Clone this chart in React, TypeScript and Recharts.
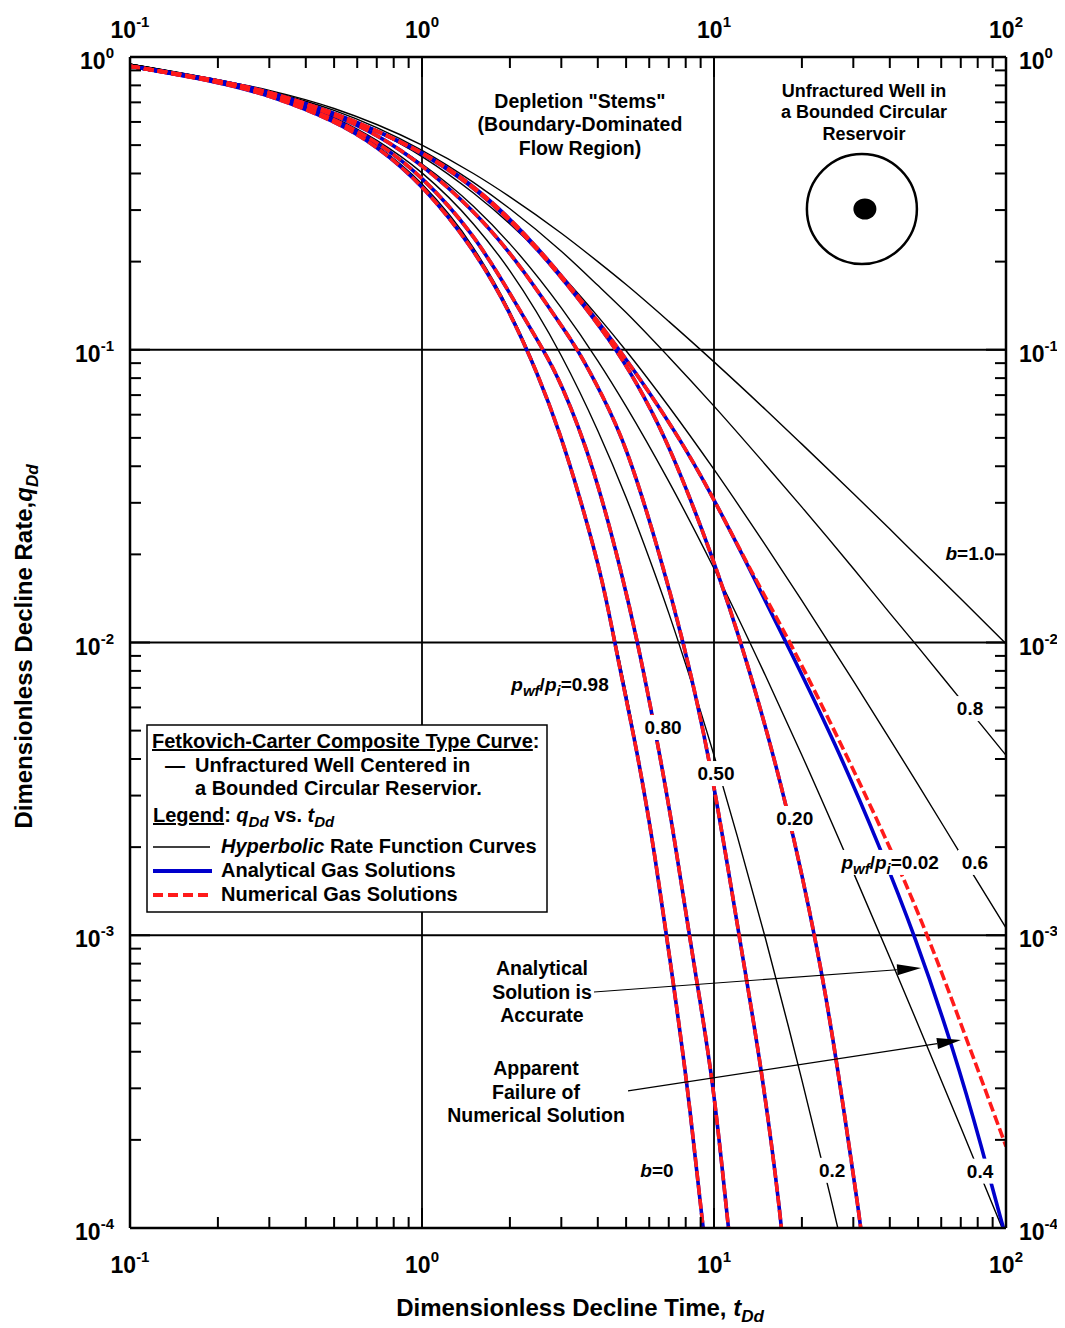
import React from 'react';
import {
  LineChart,
  Line,
  XAxis,
  YAxis,
  CartesianGrid,
  ReferenceDot,
  ReferenceLine,
  Legend,
  Label,
} from 'recharts';

const FONT = '"Liberation Sans", Arial, Helvetica, sans-serif';
const BLUE = '#0000cc';
const RED = '#ff1a1a';

// ---- axes -------------------------------------------------------------
const xDomain = [0.1, 100];
const yDomain = [0.0001, 1];
const xTicks = [
  0.1, 0.2, 0.3, 0.4, 0.5, 0.6, 0.7, 0.8, 0.9, 1, 2, 3, 4, 5, 6, 7, 8, 9, 10, 20, 30, 40, 50,
  60, 70, 80, 90, 100,
];
const yTicks = [
  0.0001, 0.0002, 0.0003, 0.0004, 0.0005, 0.0006, 0.0007, 0.0008, 0.0009, 0.001, 0.002, 0.003,
  0.004, 0.005, 0.006, 0.007, 0.008, 0.009, 0.01, 0.02, 0.03, 0.04, 0.05, 0.06, 0.07, 0.08, 0.09,
  0.1, 0.2, 0.3, 0.4, 0.5, 0.6, 0.7, 0.8, 0.9, 1,
];
const xGrid = [1, 10];
const yGrid = [0.1, 0.01, 0.001];

// ---- hyperbolic rate function stems (b = 0 ... 1) -------------------------
const tB0 = [0.1, 0.2, 0.3, 0.5, 0.7, 1, 1.5, 2, 2.5, 3, 3.5, 4, 4.5, 5, 5.5, 6, 6.5, 7, 7.5, 8, 8.5, 9, 9.5];
const qB0 = [
  0.945, 0.822, 0.741, 0.607, 0.497, 0.368, 0.223, 0.135, 0.0821, 0.0498, 0.0302, 0.0183, 0.0111,
  0.00674, 0.00409, 0.00248, 0.0015, 0.000912, 0.000553, 0.000335, 0.000203, 0.000123, 0.0000749,
];
const tB02 = [0.1, 0.2, 0.3, 0.5, 0.7, 1, 1.5, 2, 3, 4, 5, 6, 7, 8, 10, 12, 15, 18, 20, 25, 30];
const qB02 = [
  0.945, 0.825, 0.747, 0.621, 0.519, 0.402, 0.269, 0.186, 0.0954, 0.0529, 0.0313, 0.0194, 0.0126,
  0.00842, 0.00412, 0.00219, 0.000977, 0.000486, 0.00032, 0.000129, 0.0000595,
];
const tStem = [0.1, 0.2, 0.3, 0.5, 0.7, 1, 1.5, 2, 3, 4, 5, 7, 10, 15, 20, 30, 40, 50, 70, 100];
const qB04 = [
  0.945, 0.828, 0.753, 0.634, 0.539, 0.431, 0.309, 0.23, 0.139, 0.0917, 0.0641, 0.0355, 0.0179,
  0.00771, 0.00412, 0.00164, 0.000839, 0.000495, 0.000221, 0.0000929,
];
const qB06 = [
  0.945, 0.831, 0.759, 0.646, 0.557, 0.457, 0.343, 0.269, 0.18, 0.13, 0.0992, 0.064, 0.039, 0.0215,
  0.0139, 0.00739, 0.00468, 0.00327, 0.00189, 0.00106,
];
const qB08 = [
  0.945, 0.834, 0.764, 0.657, 0.574, 0.48, 0.373, 0.303, 0.217, 0.166, 0.134, 0.0945, 0.0642, 0.0405,
  0.029, 0.0179, 0.0126, 0.00964, 0.00638, 0.00412,
];
const qB10 = [
  0.945, 0.836, 0.769, 0.667, 0.588, 0.5, 0.4, 0.333, 0.25, 0.2, 0.167, 0.125, 0.0909, 0.0625, 0.0476,
  0.0323, 0.0244, 0.0196, 0.0141, 0.0099,
];

// ---- gas solutions, by pwf/pi ---------------------------------------------
const tG098 = [0.1, 0.2, 0.3, 0.5, 0.7, 1, 1.5, 2, 2.5, 2.97, 3.47, 4.17, 4.69, 5.5, 6.3, 7.07, 8.08, 9.15, 9.6];
const qG098 = [
  0.93, 0.823, 0.741, 0.607, 0.497, 0.368, 0.223, 0.135, 0.0821, 0.052, 0.0314, 0.0163, 0.0087,
  0.0041, 0.00184, 0.000823, 0.00032, 0.000102, 0.000068,
];
const tG080 = [0.1, 0.2, 0.3, 0.5, 0.7, 1, 1.5, 2, 2.6, 2.97, 3.85, 4.88, 5.45, 6.13, 7.18, 8.47, 9.92, 11.17, 11.5];
const qG080 = [
  0.93, 0.825, 0.745, 0.618, 0.515, 0.393, 0.25, 0.156, 0.1, 0.0788, 0.041, 0.0166, 0.0102, 0.00574,
  0.00246, 0.000823, 0.000328, 0.000102, 0.00008,
];
const tG050 = [
  0.1, 0.2, 0.3, 0.5, 0.7, 1, 1.5, 2, 2.5, 3, 3.42, 4.13, 5.035, 6.534, 7.83, 9.69, 12.57, 14.6, 17.1,
  17.5,
];
const qG050 = [
  0.93, 0.83, 0.756, 0.637, 0.545, 0.43, 0.3, 0.215, 0.158, 0.121, 0.1, 0.0706, 0.0466, 0.0199, 0.0102,
  0.00406, 0.000823, 0.000346, 0.000102, 0.00007,
];
const tG020 = [
  0.1, 0.2, 0.3, 0.5, 0.7, 1, 1.349, 1.849, 2.54, 3.47, 4.65, 5.71, 7.07, 9.92, 12.97, 17.78, 23.07,
  26.17, 31.87, 32.6,
];
const qG020 = [
  0.93, 0.832, 0.762, 0.645, 0.56, 0.471, 0.39, 0.3, 0.216, 0.148, 0.1, 0.0706, 0.0466, 0.0196, 0.00871,
  0.00283, 0.000823, 0.000384, 0.000102, 0.00008,
];
const tG002 = [
  0.1, 0.2, 0.3, 0.5, 0.7, 1, 1.349, 1.849, 2.54, 3.47, 4.77, 7.47, 9.92, 13.3, 18.2, 26, 37, 48.8,
  65.9, 83.4, 96.9, 100,
];
const qG002 = [
  0.93, 0.832, 0.762, 0.645, 0.561, 0.474, 0.394, 0.304, 0.219, 0.15, 0.1, 0.0519, 0.0314, 0.0177,
  0.00942, 0.00454, 0.002, 0.000994, 0.000412, 0.000183, 0.000103, 0.000094,
];
// numerical run for pwf/pi = 0.02 departs from the analytical one at late time
const tG002Num = [
  0.1, 0.2, 0.3, 0.5, 0.7, 1, 1.349, 1.849, 2.54, 3.47, 4.77, 7.47, 9.92, 13.3, 18.5, 28.1, 40.1, 53.6,
  73.5, 100,
];
const qG002Num = [
  0.93, 0.832, 0.762, 0.645, 0.561, 0.474, 0.394, 0.304, 0.219, 0.15, 0.1, 0.0519, 0.0314, 0.0177,
  0.0098, 0.00423, 0.002, 0.00102, 0.000439, 0.00019,
];

const toPts = (t: number[], q: number[]) => t.map((v, i) => ({ t: v, q: q[i] }));

const stems = [
  { id: 'b0', t: tB0, q: qB0 },
  { id: 'b02', t: tB02, q: qB02 },
  { id: 'b04', t: tStem, q: qB04 },
  { id: 'b06', t: tStem, q: qB06 },
  { id: 'b08', t: tStem, q: qB08 },
  { id: 'b10', t: tStem, q: qB10 },
];

const analytical = [
  { id: 'a098', t: tG098, q: qG098 },
  { id: 'a080', t: tG080, q: qG080 },
  { id: 'a050', t: tG050, q: qG050 },
  { id: 'a020', t: tG020, q: qG020 },
  { id: 'a002', t: tG002, q: qG002 },
];
const numerical = [
  { id: 'n098', t: tG098, q: qG098 },
  { id: 'n080', t: tG080, q: qG080 },
  { id: 'n050', t: tG050, q: qG050 },
  { id: 'n020', t: tG020, q: qG020 },
  { id: 'n002', t: tG002Num, q: qG002Num },
];

// ---- annotations (anchored in t_Dd / q_Dd units) ---------------------------
const curveTags = [
  { t: 75.3, q: 0.0202, kind: 'b', text: '1.0', bg: 0 },
  { t: 75.3, q: 0.00597, kind: 'n', text: '0.8', bg: 34 },
  { t: 78.3, q: 0.00178, kind: 'n', text: '0.6', bg: 34 },
  { t: 40.1, q: 0.00178, kind: 'p', text: '0.02', bg: 110 },
  { t: 18.9, q: 0.002515, kind: 'n', text: '0.20', bg: 44 },
  { t: 10.16, q: 0.003582, kind: 'n', text: '0.50', bg: 44 },
  { t: 6.69, q: 0.005144, kind: 'n', text: '0.80', bg: 44 },
  { t: 2.97, q: 0.00721, kind: 'p', text: '0.98', bg: 110 },
  { t: 6.38, q: 0.000158, kind: 'b', text: '0', bg: 0 },
  { t: 25.4, q: 0.000158, kind: 'n', text: '0.2', bg: 34 },
  { t: 81.5, q: 0.000157, kind: 'n', text: '0.4', bg: 34 },
];

const textBlocks = [
  { t: 3.475, q: 0.6696, size: 19.5, gap: 23.5, lines: ['Depletion "Stems"', '(Boundary-Dominated', 'Flow Region)'] },
  { t: 32.64, q: 0.7304, size: 18, gap: 21.5, lines: ['Unfractured Well in', 'a Bounded Circular', 'Reservoir'] },
  { t: 2.576, q: 0.000731, size: 19.5, gap: 23.5, lines: ['Analytical', 'Solution is', 'Accurate'] },
  { t: 2.457, q: 0.000333, size: 19.5, gap: 23.5, lines: ['Apparent', 'Failure of', 'Numerical Solution'] },
];

const arrows = [
  { from: { x: 3.882, y: 0.00064 }, to: { x: 51.2, y: 0.000773 } },
  { from: { x: 5.076, y: 0.000294 }, to: { x: 70.1, y: 0.000439 } },
];

const wellSketch = { t: 32.1, q: 0.3026 };

// ---- renderers --------------------------------------------------------------
const isDecade = (v: number) => Math.abs(Math.log10(v) - Math.round(Math.log10(v))) < 1e-6;

const Pow = ({ x, y, v, anchor }: { x: number; y: number; v: number; anchor: string }) => (
  <text x={x} y={y} textAnchor={anchor as any} fontFamily={FONT} fontWeight="bold" fill="#000">
    <tspan fontSize={23}>10</tspan>
    <tspan fontSize={15} dy={-11}>
      {String(Math.round(Math.log10(v)))}
    </tspan>
  </text>
);

const MINOR = 11;
const MAJOR = 20;

const tickBottom = (p: any) => {
  const { x, y, payload } = p;
  const major = isDecade(payload.value);
  return (
    <g>
      <line x1={x} x2={x} y1={y} y2={y - (major ? MAJOR : MINOR)} stroke="#000" strokeWidth={2} />
      {major && <Pow x={x} y={y + 45} v={payload.value} anchor="middle" />}
    </g>
  );
};
const tickTop = (p: any) => {
  const { x, y, payload } = p;
  const major = isDecade(payload.value);
  return (
    <g>
      <line x1={x} x2={x} y1={y} y2={y + (major ? MAJOR : MINOR)} stroke="#000" strokeWidth={2} />
      {major && <Pow x={x} y={y - 19} v={payload.value} anchor="middle" />}
    </g>
  );
};
const tickLeft = (p: any) => {
  const { x, y, payload } = p;
  const major = isDecade(payload.value);
  return (
    <g>
      <line x1={x} x2={x + (major ? MAJOR : MINOR)} y1={y} y2={y} stroke="#000" strokeWidth={2} />
      {major && <Pow x={x - 16} y={y + 12} v={payload.value} anchor="end" />}
    </g>
  );
};
const tickRight = (p: any) => {
  const { x, y, payload } = p;
  const major = isDecade(payload.value);
  return (
    <g>
      <line x1={x} x2={x - (major ? MAJOR : MINOR)} y1={y} y2={y} stroke="#000" strokeWidth={2} />
      {major && <Pow x={x + 13} y={y + 12} v={payload.value} anchor="start" />}
    </g>
  );
};

const XTitle = (p: any) => {
  const vb = p.viewBox || {};
  const cx = vb.x + vb.width / 2 + 12;
  const y = vb.y + 88;
  return (
    <text x={cx} y={y} textAnchor="middle" fontFamily={FONT} fontWeight="bold" fontSize={24} fill="#000">
      Dimensionless Decline Time,{' '}
      <tspan fontStyle="italic">t</tspan>
      <tspan fontStyle="italic" fontSize={17} dy={6}>
        Dd
      </tspan>
    </text>
  );
};

const YTitle = (p: any) => {
  const vb = p.viewBox || {};
  const x = vb.x - 38;
  const cy = vb.y + vb.height / 2 + 4;
  return (
    <text
      x={x}
      y={cy}
      transform={`rotate(-90, ${x}, ${cy})`}
      textAnchor="middle"
      fontFamily={FONT}
      fontWeight="bold"
      fontSize={24}
      fill="#000"
    >
      Dimensionless Decline Rate,
      <tspan fontStyle="italic">q</tspan>
      <tspan fontStyle="italic" fontSize={17} dy={6}>
        Dd
      </tspan>
    </text>
  );
};

const tagBody = (kind: string, text: string) => {
  if (kind === 'b')
    return [
      <tspan key="b" fontStyle="italic">
        b
      </tspan>,
      <tspan key="v">={text}</tspan>,
    ];
  if (kind === 'p')
    return [
      <tspan key="p1" fontStyle="italic">
        p
      </tspan>,
      <tspan key="s1" fontStyle="italic" fontSize={15} dy={5}>
        wf
      </tspan>,
      <tspan key="sl" dy={-5}>
        /
      </tspan>,
      <tspan key="p2" fontStyle="italic">
        p
      </tspan>,
      <tspan key="s2" fontStyle="italic" fontSize={15} dy={5}>
        i
      </tspan>,
      <tspan key="v" dy={-5}>
        ={text}
      </tspan>,
    ];
  return [<tspan key="v">{text}</tspan>];
};

const makeTag = (kind: string, text: string, bg: number) => (p: any) => {
  const { cx, cy } = p;
  if (cx == null || cy == null) return <g />;
  return (
    <g>
      {bg > 0 && <rect x={cx - bg / 2} y={cy - 12} width={bg} height={25} fill="#fff" />}
      <text x={cx} y={cy + 7} textAnchor="middle" fontFamily={FONT} fontWeight="bold" fontSize={19} fill="#000">
        {tagBody(kind, text)}
      </text>
    </g>
  );
};

const makeBlock = (lines: string[], size: number, gap: number) => (p: any) => {
  const { cx, cy } = p;
  if (cx == null || cy == null) return <g />;
  return (
    <text x={cx} y={cy} textAnchor="middle" fontFamily={FONT} fontWeight="bold" fontSize={size} fill="#000">
      {lines.map((l, i) => (
        <tspan key={i} x={cx} dy={i === 0 ? 0 : gap}>
          {l}
        </tspan>
      ))}
    </text>
  );
};

const WellShape = (p: any) => {
  const { cx, cy } = p;
  if (cx == null || cy == null) return <g />;
  return (
    <g>
      <circle cx={cx} cy={cy} r={55} fill="none" stroke="#000" strokeWidth={2.5} />
      <ellipse cx={cx + 3} cy={cy} rx={11.5} ry={10.5} fill="#000" />
    </g>
  );
};

const ArrowShape = (p: any) => {
  const { x1, y1, x2, y2 } = p;
  if ([x1, y1, x2, y2].some((v) => v == null || Number.isNaN(v))) return <g />;
  const ang = Math.atan2(y2 - y1, x2 - x1);
  const L = 24;
  const W = 5.5;
  const bx = x2 - L * Math.cos(ang);
  const by = y2 - L * Math.sin(ang);
  const px = -Math.sin(ang) * W;
  const py = Math.cos(ang) * W;
  return (
    <g>
      <line x1={x1} y1={y1} x2={bx} y2={by} stroke="#000" strokeWidth={1.2} />
      <polygon points={`${x2},${y2} ${bx + px},${by + py} ${bx - px},${by - py}`} fill="#000" />
    </g>
  );
};

const LegendBox = () => (
  <svg width={402} height={189} style={{ display: 'block' }} fontFamily={FONT} fontWeight="bold" fontSize={20}>
    <rect x={1} y={1} width={400} height={187} fill="#fff" stroke="#000" strokeWidth={1.5} />
    <text x={6} y={24}>
      <tspan textDecoration="underline">Fetkovich-Carter Composite Type Curve</tspan>:
    </text>
    <text x={19} y={48}>
      —
    </text>
    <text x={49} y={48}>
      Unfractured Well Centered in
    </text>
    <text x={49} y={71}>
      a Bounded Circular Reservior.
    </text>
    <text x={7} y={98}>
      <tspan textDecoration="underline">Legend</tspan>:{' '}
      <tspan fontStyle="italic">q</tspan>
      <tspan fontStyle="italic" fontSize={15} dy={5}>
        Dd
      </tspan>
      <tspan dy={-5}> vs. </tspan>
      <tspan fontStyle="italic">t</tspan>
      <tspan fontStyle="italic" fontSize={15} dy={5}>
        Dd
      </tspan>
    </text>
    <line x1={7} x2={64} y1={123} y2={123} stroke="#000" strokeWidth={1.5} />
    <text x={75} y={129}>
      <tspan fontStyle="italic">Hyperbolic</tspan> Rate Function Curves
    </text>
    <line x1={7} x2={66} y1={147} y2={147} stroke={BLUE} strokeWidth={4} />
    <text x={75} y={153}>
      Analytical Gas Solutions
    </text>
    <line x1={7} x2={62} y1={171} y2={171} stroke={RED} strokeWidth={4} strokeDasharray="10 5" />
    <text x={75} y={177}>
      Numerical Gas Solutions
    </text>
  </svg>
);

const axisLine = { stroke: '#000', strokeWidth: 2.5 };

export default function App() {
  return (
    <div style={{ width: 1049, height: 1320 }}>
      <LineChart width={1049} height={1320} margin={{ top: 9, right: 1, bottom: 40, left: 62 }}>
        <CartesianGrid
          xAxisId="b"
          yAxisId="l"
          horizontalValues={yGrid}
          verticalValues={xGrid}
          stroke="#000"
          strokeWidth={1.8}
          fill="none"
        />
        <XAxis
          xAxisId="b"
          orientation="bottom"
          dataKey="t"
          type="number"
          scale="log"
          domain={xDomain}
          ticks={xTicks}
          interval={0}
          allowDataOverflow
          tickSize={0}
          tickMargin={0}
          tickLine={false}
          axisLine={axisLine}
          height={60}
          tick={tickBottom}
        >
          <Label content={XTitle} />
        </XAxis>
        <XAxis
          xAxisId="t"
          orientation="top"
          dataKey="t"
          type="number"
          scale="log"
          domain={xDomain}
          ticks={xTicks}
          interval={0}
          allowDataOverflow
          tickSize={0}
          tickMargin={0}
          tickLine={false}
          axisLine={axisLine}
          height={40}
          tick={tickTop}
        />
        <YAxis
          yAxisId="l"
          orientation="left"
          type="number"
          scale="log"
          domain={yDomain}
          ticks={yTicks}
          interval={0}
          allowDataOverflow
          tickSize={0}
          tickMargin={0}
          tickLine={false}
          axisLine={axisLine}
          width={60}
          tick={tickLeft}
        >
          <Label content={YTitle} />
        </YAxis>
        <YAxis
          yAxisId="r"
          orientation="right"
          type="number"
          scale="log"
          domain={yDomain}
          ticks={yTicks}
          interval={0}
          allowDataOverflow
          tickSize={0}
          tickMargin={0}
          tickLine={false}
          axisLine={axisLine}
          width={50}
          tick={tickRight}
        />

        {stems.map((s) => (
          <Line
            key={s.id}
            xAxisId="b"
            yAxisId="l"
            data={toPts(s.t, s.q)}
            dataKey="q"
            type="monotone"
            stroke="#000"
            strokeWidth={1.4}
            dot={false}
            activeDot={false}
            isAnimationActive={false}
          />
        ))}
        {analytical.map((s) => (
          <Line
            key={s.id}
            xAxisId="b"
            yAxisId="l"
            data={toPts(s.t, s.q)}
            dataKey="q"
            type="basis"
            stroke={BLUE}
            strokeWidth={3.6}
            dot={false}
            activeDot={false}
            isAnimationActive={false}
          />
        ))}
        {numerical.map((s) => (
          <Line
            key={s.id}
            xAxisId="b"
            yAxisId="l"
            data={toPts(s.t, s.q)}
            dataKey="q"
            type="basis"
            stroke={RED}
            strokeWidth={3.6}
            strokeDasharray="10 4"
            dot={false}
            activeDot={false}
            isAnimationActive={false}
          />
        ))}

        {arrows.map((a, i) => (
          <ReferenceLine
            key={`arrow-${i}`}
            xAxisId="b"
            yAxisId="l"
            segment={[a.from, a.to]}
            ifOverflow="visible"
            shape={ArrowShape}
          />
        ))}
        {textBlocks.map((b, i) => (
          <ReferenceDot
            key={`block-${i}`}
            xAxisId="b"
            yAxisId="l"
            x={b.t}
            y={b.q}
            r={0}
            ifOverflow="visible"
            shape={makeBlock(b.lines, b.size, b.gap)}
          />
        ))}
        {curveTags.map((c, i) => (
          <ReferenceDot
            key={`tag-${i}`}
            xAxisId="b"
            yAxisId="l"
            x={c.t}
            y={c.q}
            r={0}
            ifOverflow="visible"
            shape={makeTag(c.kind, c.text, c.bg)}
          />
        ))}
        <ReferenceDot
          xAxisId="b"
          yAxisId="l"
          x={wellSketch.t}
          y={wellSketch.q}
          r={0}
          ifOverflow="visible"
          shape={WellShape}
        />

        <Legend
          layout="vertical"
          align="center"
          verticalAlign="middle"
          content={() => <LegendBox />}
          wrapperStyle={{ position: 'absolute', left: 138, top: 716, width: 402, height: 189 }}
        />
      </LineChart>
    </div>
  );
}
